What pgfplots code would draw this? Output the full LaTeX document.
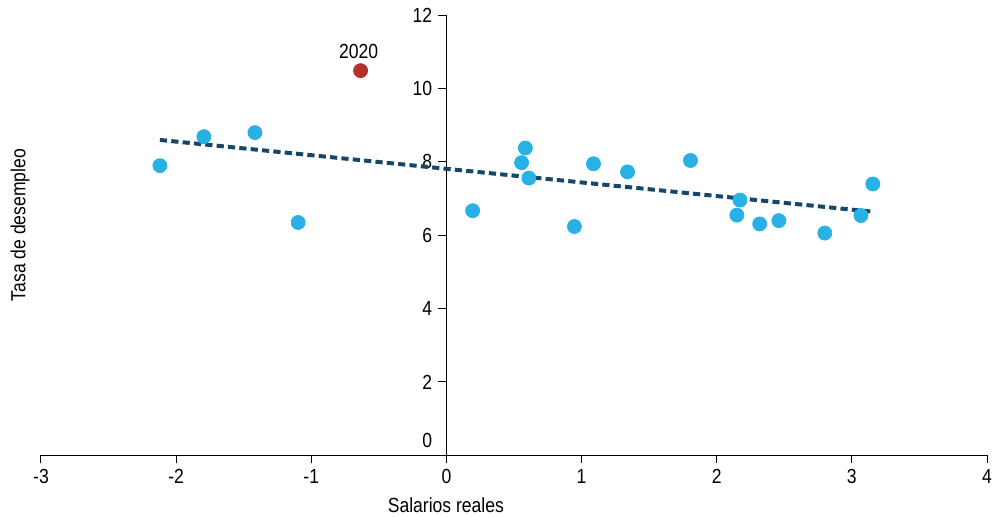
\documentclass[border=0pt]{standalone}
\usepackage{pgfplots}
\pgfplotsset{compat=1.18}
\usepackage{fontspec}
\setmainfont{Liberation Sans}[FakeStretch=0.86]
\definecolor{ptblue}{HTML}{29B1E5}
\definecolor{ptred}{HTML}{B5322A}
\definecolor{trend}{HTML}{16476A}
\begin{document}
\fontsize{10.2}{12}\selectfont
\begin{tikzpicture}
\begin{axis}[
  scale only axis,
  width=473pt, height=220pt,
  xmin=-3, xmax=4, ymin=0, ymax=12,
  axis x line=bottom, axis y line=center,
  axis line style={-, line width=0.5pt},
  xtick={-3,-2,-1,0,1,2,3,4},
  ytick={2,4,6,8,10,12},
  tick align=outside,
  major tick length=4pt,
  tick style={line width=0.5pt, black},
  every tick label/.append style={font=\fontsize{10.2}{12}\selectfont},
  yticklabel style={anchor=east, inner sep=0pt, xshift=-3pt},
  xticklabel style={anchor=north, inner sep=0pt, yshift=-3pt},
  /pgf/number format/assume math mode=true,
  clip=false,
]
\addplot[only marks, mark=*, mark size=3.5pt, draw=none, fill=ptblue, mark options={draw=ptblue, fill=ptblue}] coordinates {
(-2.12,7.90) (-1.795,8.69) (-1.417,8.80) (-1.097,6.35) (0.194,6.67)
(0.584,8.38) (0.556,7.98) (0.61,7.56) (0.947,6.24) (1.088,7.95)
(1.34,7.73) (1.806,8.04) (2.172,6.96) (2.149,6.55) (2.318,6.31)
(2.46,6.40) (2.80,6.06) (3.067,6.54) (3.155,7.40)
};
\addplot[only marks, mark=*, mark size=3.5pt, mark options={draw=ptred, fill=ptred}] coordinates {(-0.635,10.49)};
\addplot[trend, line width=2pt, dash pattern=on 3.6pt off 2.1pt] coordinates {(-2.12,8.60) (3.16,6.64)};
\node[anchor=south, inner sep=0pt] at (axis cs:-0.65,10.49) [yshift=6pt] {2020};
\node[anchor=east, inner sep=0pt] at (axis cs:0,0) [xshift=-7pt, yshift=7.5pt] {0};
\node[rotate=90, anchor=center] at (rel axis cs:-0.022,0.523) {Tasa de desempleo};
\node[anchor=base] at (rel axis cs:0.428,0) [yshift=-28.5pt] {Salarios reales};
\end{axis}
\pgfresetboundingbox
\path[use as bounding box] (-20.5pt,-30.85pt) rectangle (477pt,227.65pt);
\end{tikzpicture}
\end{document}
